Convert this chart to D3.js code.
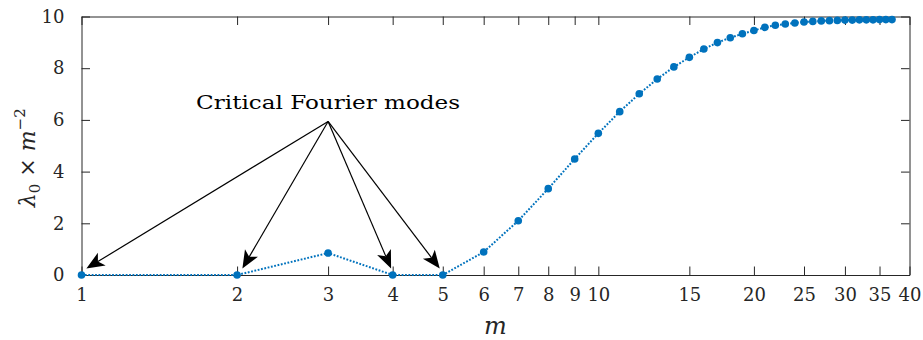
<!DOCTYPE html>
<html>
<head>
<meta charset="utf-8">
<script src="https://cdn.jsdelivr.net/npm/d3@7/dist/d3.min.js"></script>
<style>
  html, body { margin: 0; padding: 0; background: #fff; }
  svg text { font-family: "DejaVu Serif", serif; fill: #262626; }
</style>
</head>
<body>
<svg id="chart" width="923" height="340"></svg>
<script>
// Fourier mode index m and the scaled eigenvalue lambda_0 * m^-2
const modes = [1, 2, 3, 4, 5, 6, 7, 8, 9, 10, 11, 12, 13, 14, 15, 16, 17, 18, 19,
               20, 21, 22, 23, 24, 25, 26, 27, 28, 29, 30, 31, 32, 33, 34, 35, 36, 37];
const lambdaScaled = [0, 0, 0.85, 0, 0, 0.89, 2.10, 3.34, 4.49, 5.48, 6.32, 7.01, 7.58,
                      8.05, 8.42, 8.74, 8.99, 9.18, 9.33, 9.46, 9.58, 9.66, 9.71, 9.75,
                      9.79, 9.81, 9.83, 9.84, 9.85, 9.86, 9.86, 9.87, 9.87, 9.87, 9.88,
                      9.88, 9.88];

const xTicks = [1, 2, 3, 4, 5, 6, 7, 8, 9, 10, 15, 20, 25, 30, 35, 40];
const yTicks = [0, 2, 4, 6, 8, 10];

// Annotation: label, arrow origin and arrow tips (data coordinates)
const noteText = "Critical Fourier modes";
const noteLabelAt = [3, 6.42];
const noteOrigin = [3, 5.94];
const noteTips = [[1.022, 0.25], [2.048, 0.25], [3.972, 0.25], [4.933, 0.25]];

const svg = d3.select("#chart");
const axisColor = "#262626";
const blue = "#0072BD";
const serif = '"DejaVu Serif", serif';

const x = d3.scaleLog().domain([1, 40]).range([81.5, 909.5]);
const y = d3.scaleLinear().domain([0, 10]).range([275, 16.5]);
const tickLen = 8.5;

// Axes box with inward ticks on all sides
const axisB = d3.axisBottom(x).tickValues(xTicks).tickFormat(d3.format("d"))
  .tickSizeInner(-tickLen).tickSizeOuter(0).tickPadding(13);
const axisT = d3.axisTop(x).tickValues(xTicks).tickFormat("")
  .tickSizeInner(-tickLen).tickSizeOuter(0);
const axisL = d3.axisLeft(y).tickValues(yTicks).tickFormat(d3.format("d"))
  .tickSizeInner(-tickLen).tickSizeOuter(0).tickPadding(17);
const axisR = d3.axisRight(y).tickValues(yTicks).tickFormat("")
  .tickSizeInner(-tickLen).tickSizeOuter(0);

function styleAxis(g) {
  g.attr("font-family", serif).attr("font-size", 18);
  g.selectAll("path.domain").attr("stroke", axisColor).attr("stroke-width", 1);
  g.selectAll(".tick line").attr("stroke", axisColor).attr("stroke-width", 1);
  g.selectAll(".tick text").attr("fill", axisColor);
}

svg.append("g").attr("transform", `translate(0,${y(0)})`).call(axisB).call(styleAxis);
svg.append("g").attr("transform", `translate(0,${y(10)})`).call(axisT).call(styleAxis);
svg.append("g").attr("transform", `translate(${x(1)},0)`).call(axisL).call(styleAxis);
svg.append("g").attr("transform", `translate(${x(40)},0)`).call(axisR).call(styleAxis);

// Data: dotted line with filled markers
const pts = modes.map((m, i) => [m, lambdaScaled[i]]);
const line = d3.line().x(d => x(d[0])).y(d => y(d[1]));
svg.append("path").datum(pts)
  .attr("d", line)
  .attr("fill", "none")
  .attr("stroke", blue)
  .attr("stroke-width", 2)
  .attr("stroke-dasharray", "1.8,1.6");
svg.append("g").selectAll("circle").data(pts).join("circle")
  .attr("cx", d => x(d[0])).attr("cy", d => y(d[1]))
  .attr("r", 3.8).attr("fill", blue);

// Annotation arrows
const ox = x(noteOrigin[0]), oy = y(noteOrigin[1]);
const headLen = 18, headW = 7.5, notch = 4.5;
const arrows = svg.append("g");
noteTips.forEach(t => {
  const tx = x(t[0]), ty = y(t[1]);
  const dx = tx - ox, dy = ty - oy, L = Math.hypot(dx, dy);
  const ux = dx / L, uy = dy / L, px = -uy, py = ux;
  const bx = tx - ux * headLen, by = ty - uy * headLen;
  const nx = tx - ux * (headLen - notch), ny = ty - uy * (headLen - notch);
  arrows.append("line")
    .attr("x1", ox).attr("y1", oy).attr("x2", nx).attr("y2", ny)
    .attr("stroke", "#000").attr("stroke-width", 1.2);
  arrows.append("path")
    .attr("d", `M${tx},${ty}L${bx + px * headW},${by + py * headW}L${nx},${ny}L${bx - px * headW},${by - py * headW}Z`)
    .attr("fill", "#000");
});

svg.append("text")
  .attr("x", x(noteLabelAt[0])).attr("y", y(noteLabelAt[1]))
  .attr("text-anchor", "middle")
  .attr("textLength", 264).attr("lengthAdjust", "spacingAndGlyphs")
  .style("font-size", "19px").style("fill", "#000")
  .text(noteText);

// Axis labels
svg.append("text")
  .attr("x", (x(1) + x(40)) / 2).attr("y", 334)
  .attr("text-anchor", "middle")
  .style("font-size", "24px").style("font-style", "italic")
  .text("m");

const yl = svg.append("text")
  .attr("transform", `translate(35,${(y(0) + y(10)) / 2 + 12}) rotate(-90)`)
  .attr("text-anchor", "middle")
  .style("font-size", "22px");
yl.append("tspan").style("font-style", "italic").text("λ");
yl.append("tspan").attr("dy", 5).style("font-size", "15px").text("0");
yl.append("tspan").attr("dy", -5).text(" × ");
yl.append("tspan").style("font-style", "italic").text("m");
yl.append("tspan").attr("dy", -10).style("font-size", "15px").text("−2");
</script>
</body>
</html>
